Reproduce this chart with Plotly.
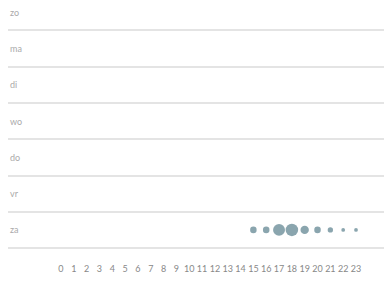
import plotly.graph_objects as go

days = ["zo", "ma", "di", "wo", "do", "vr", "za"]
hours = list(range(24))
counts = {
    "zo": [0] * 24,
    "ma": [0] * 24,
    "di": [0] * 24,
    "wo": [0] * 24,
    "do": [0] * 24,
    "vr": [0] * 24,
    "za": [0] * 15 + [3, 3, 10, 11, 5, 3, 2, 1, 1],
}

xs, ys, ss = [], [], []
for i, d in enumerate(days):
    for h, v in zip(hours, counts[d]):
        if v > 0:
            xs.append(h)
            ys.append(i)
            ss.append(v)

fig = go.Figure()
fig.add_trace(go.Scatter(
    x=xs, y=ys, mode="markers",
    marker=dict(size=ss, sizemode="area", sizeref=22 / 156.25, color="#587f8c",
                line=dict(width=0)),
    hoverinfo="skip",
))

for i, d in enumerate(days):
    fig.add_annotation(x=0, xref="paper", y=i, yref="y", text=d, showarrow=False,
                       xanchor="left", yanchor="middle",
                       font=dict(family="Lato", size=9, color="#aaaaaa"))

fig.update_layout(
    width=392, height=284,
    margin=dict(l=0, r=0, t=0, b=40),
    plot_bgcolor="white", paper_bgcolor="white",
    showlegend=False,
    xaxis=dict(range=[-4.13, 26.43], tickmode="array", tickvals=hours,
               ticktext=[str(h) for h in hours], showgrid=False, zeroline=False,
               showline=False, ticks="", ticklabelstandoff=10,
               tickfont=dict(family="Lato", size=9, color="#888888")),
    yaxis=dict(range=[6.61, -0.12], tickmode="array",
               tickvals=[i + 0.5 for i in range(len(days))],
               showticklabels=False, showgrid=True, gridcolor="#e4e4e4",
               gridwidth=1.5, zeroline=False, showline=False),
)

fig.write_html("out.html")
